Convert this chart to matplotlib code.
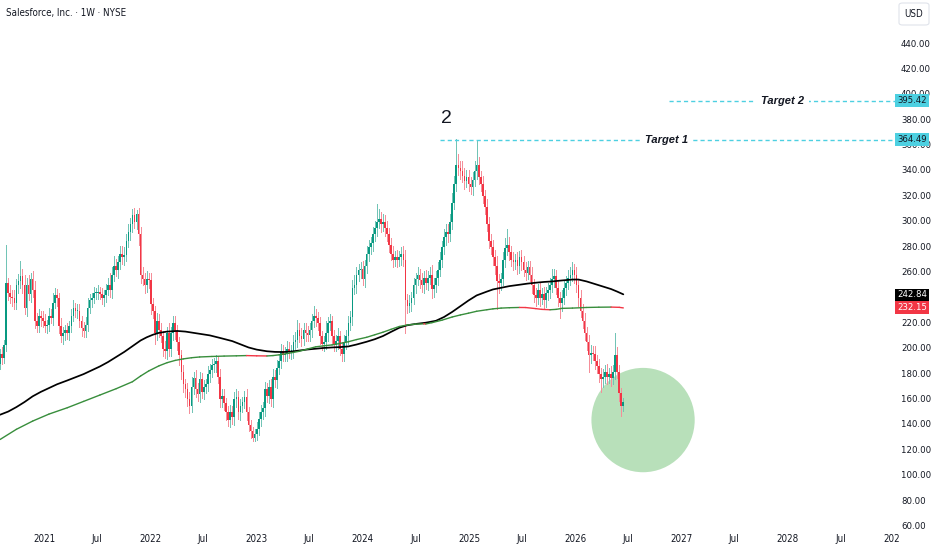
import pandas as pd
import numpy as np
import matplotlib
matplotlib.use('Agg')
import matplotlib.pyplot as plt
from matplotlib.patches import Ellipse, Rectangle, FancyBboxPatch
from matplotlib.collections import LineCollection

plt.rcParams['font.family'] = ['DejaVu Sans', 'Liberation Sans']
plt.rcParams['font.stretch'] = 'condensed'

# weekly bars, first bar = week of 2020-08-03
start = pd.Timestamp('2020-08-03')
first_open = 188

closes = [
    196, 193, 203, 252, 244, 241, 240, 236, 250, 253,
    257, 250, 232, 250, 243, 255, 246, 222, 218, 226,
    224, 222, 218, 219, 226, 224, 236, 242, 240, 218,
    210, 212, 215, 212, 218, 226, 232, 230, 230, 222,
    216, 214, 219, 232, 238, 240, 244, 244, 245, 243,
    240, 242, 246, 250, 246, 258, 265, 262, 268, 275,
    272, 274, 285, 292, 298, 305, 300, 306, 290, 258,
    255, 250, 255, 254, 235, 230, 212, 222, 215, 210,
    200, 198, 212, 200, 212, 220, 214, 205, 195, 182,
    172, 168, 160, 155, 170, 177, 168, 164, 176, 166,
    170, 172, 180, 183, 187, 188, 190, 178, 160, 163,
    157, 150, 144, 150, 146, 160, 162, 150, 155, 158,
    162, 150, 140, 135, 130, 133, 137, 145, 150, 153,
    168, 163, 170, 160, 178, 175, 185, 190, 198, 195,
    196, 200, 198, 198, 205, 207, 215, 210, 208, 215,
    212, 211, 215, 222, 226, 224, 220, 210, 204, 205,
    212, 220, 222, 210, 203, 206, 210, 200, 196, 205,
    210, 220, 225, 248, 250, 258, 262, 263, 255, 265,
    275, 280, 283, 290, 295, 300, 302, 298, 300, 295,
    290, 282, 275, 270, 272, 270, 272, 275, 270, 238,
    234, 236, 240, 250, 255, 258, 254, 250, 256, 252,
    256, 258, 247, 250, 256, 262, 270, 280, 288, 292,
    290, 300, 315, 330, 345, 342, 340, 336, 332, 335,
    330, 327, 333, 340, 345, 335, 330, 320, 312, 298,
    285, 280, 272, 265, 253, 252, 255, 270, 279, 282,
    276, 270, 268, 270, 265, 272, 268, 262, 260, 264,
    258, 250, 242, 240, 246, 240, 243, 238, 244, 246,
    250, 255, 257, 248, 240, 236, 240, 248, 252, 256,
    258, 262, 258, 250, 240, 230, 222, 212, 205, 195,
    197, 196, 190, 186, 180, 176, 178, 182, 178, 180,
    177, 182, 195, 182, 165, 155, 158,
]

# wick length above the body / below the body
wick_up = [
    4, 5, 4, 30, 4, 6, 5, 6, 5, 6,
    12, 6, 8, 6, 8, 5, 6, 7, 6, 5,
    4, 6, 5, 4, 6, 5, 8, 6, 5, 4,
    6, 5, 4, 5, 4, 5, 6, 4, 5, 5,
    4, 5, 6, 8, 5, 4, 5, 4, 5, 4,
    5, 4, 5, 6, 10, 6, 8, 6, 5, 6,
    6, 6, 5, 6, 5, 5, 6, 3, 5, 6,
    6, 5, 6, 5, 6, 5, 4, 6, 5, 5,
    4, 6, 5, 8, 5, 6, 6, 5, 4, 4,
    5, 4, 5, 6, 8, 5, 6, 5, 6, 5,
    5, 4, 6, 5, 5, 5, 5, 4, 6, 5,
    5, 4, 5, 6, 5, 6, 6, 5, 5, 4,
    5, 6, 4, 4, 3, 4, 5, 5, 6, 5,
    6, 5, 5, 6, 6, 5, 6, 5, 6, 5,
    5, 6, 5, 5, 6, 6, 8, 5, 6, 5,
    5, 6, 5, 5, 8, 5, 5, 5, 4, 5,
    10, 5, 5, 4, 5, 5, 6, 4, 5, 6,
    5, 6, 5, 6, 8, 6, 5, 5, 6, 5,
    6, 6, 5, 6, 6, 14, 8, 6, 6, 5,
    6, 5, 5, 6, 5, 6, 5, 5, 6, 8,
    5, 6, 5, 6, 5, 6, 5, 6, 5, 6,
    5, 6, 8, 6, 5, 6, 6, 5, 6, 6,
    6, 6, 8, 6, 20, 8, 6, 8, 6, 6,
    6, 5, 6, 8, 19, 6, 5, 6, 5, 6,
    6, 5, 6, 6, 8, 6, 5, 6, 8, 12,
    6, 5, 6, 5, 6, 5, 6, 5, 6, 5,
    5, 6, 5, 6, 5, 6, 5, 6, 5, 6,
    6, 8, 6, 5, 6, 5, 6, 6, 5, 6,
    6, 6, 5, 6, 5, 6, 5, 6, 5, 6,
    6, 5, 6, 5, 6, 5, 6, 5, 6, 5,
    6, 5, 17, 6, 5, 4, 3,
]
wick_dn = [
    4, 5, 4, 5, 6, 5, 6, 5, 5, 6,
    5, 6, 5, 6, 5, 6, 5, 6, 5, 5,
    6, 5, 5, 6, 5, 4, 5, 4, 6, 6,
    5, 6, 5, 4, 5, 5, 4, 5, 6, 5,
    6, 5, 5, 5, 4, 5, 4, 5, 5, 4,
    5, 6, 5, 4, 5, 6, 5, 5, 6, 5,
    5, 6, 5, 5, 6, 6, 5, 6, 8, 6,
    5, 6, 5, 6, 8, 6, 8, 5, 6, 5,
    6, 5, 6, 6, 6, 5, 6, 6, 8, 6,
    6, 6, 5, 6, 5, 6, 6, 5, 6, 5,
    6, 5, 5, 6, 5, 5, 6, 5, 6, 6,
    5, 6, 5, 6, 5, 6, 6, 5, 6, 5,
    5, 6, 5, 5, 3, 3, 5, 5, 6, 5,
    6, 5, 6, 5, 6, 5, 6, 5, 5, 5,
    5, 6, 5, 6, 5, 5, 6, 5, 6, 5,
    6, 5, 5, 6, 5, 6, 5, 6, 5, 6,
    5, 6, 5, 6, 5, 5, 6, 5, 6, 6,
    5, 6, 5, 6, 5, 6, 5, 6, 5, 6,
    5, 6, 5, 6, 5, 6, 5, 6, 5, 6,
    5, 6, 5, 6, 5, 6, 5, 6, 5, 26,
    6, 5, 6, 5, 6, 5, 6, 5, 6, 5,
    6, 5, 7, 6, 5, 6, 5, 6, 5, 6,
    6, 5, 6, 5, 6, 5, 6, 5, 6, 5,
    6, 5, 6, 5, 6, 5, 6, 5, 6, 5,
    6, 5, 6, 6, 22, 8, 6, 5, 6, 5,
    6, 5, 6, 5, 6, 5, 6, 5, 6, 5,
    5, 6, 5, 6, 5, 6, 5, 6, 5, 6,
    6, 5, 6, 5, 6, 12, 6, 5, 6, 5,
    6, 5, 6, 5, 6, 5, 6, 5, 6, 13,
    6, 5, 6, 5, 6, 10, 6, 5, 6, 5,
    6, 5, 6, 5, 6, 8, 4,
]

# moving averages (week index, value)
sma100_weeks = [0, 4, 8, 12, 16, 20, 24, 28, 33, 37,
                41, 45, 49, 53, 57, 61, 65, 69, 72, 75,
                78, 82, 87, 91, 95, 99, 103, 108, 114, 118,
                122, 126, 131, 135, 139, 143, 147, 151, 155, 159,
                163, 167, 171, 175, 180, 184, 188, 192, 196, 200,
                204, 209, 214, 218, 222, 226, 230, 234, 239, 242,
                246, 250, 255, 259, 263, 267, 271, 276, 281, 284,
                288, 292, 296, 300, 303, 306]
sma100 = [148, 150.5, 154, 158, 162.5, 166, 169, 172, 175, 177.5,
          180, 183, 186, 189.5, 193.5, 197.5, 202, 206.5, 209, 211,
          212.5, 213.5, 214, 213.5, 212.5, 211.5, 210.5, 208.5, 206, 203.5,
          201, 199.3, 198, 197.5, 197.4, 197.8, 198.6, 199.4, 200, 200.6,
          201, 201.3, 201.8, 203.3, 205.5, 207.5, 210, 213.3, 216.5, 218.5,
          219.5, 220.5, 222, 225, 229, 233.5, 238, 242, 245, 246.7,
          248, 249.3, 250.4, 251.3, 252, 252.6, 253, 253.8, 254.5, 254.5,
          253, 251, 249, 247, 245, 242.84]
sma200_weeks = [0, 8, 16, 24, 33, 41, 49, 57, 65, 69,
                73, 78, 82, 86, 90, 94, 98, 104, 110, 116,
                121, 126, 131, 134, 137, 142, 147, 151, 155, 159,
                163, 167, 171, 175, 180, 184, 188, 192, 196, 200,
                204, 208, 209, 212, 217, 222, 226, 230, 234, 239,
                242, 246, 250, 255, 258, 263, 266, 270, 273, 276,
                281, 288, 294, 300, 304, 306]
sma200 = [128.5, 136.5, 143, 148.5, 153.5, 158.5, 163.5, 168.5, 174, 178.5,
          182.5, 186.5, 189, 190.8, 192, 192.9, 193.5, 193.9, 194.2, 194.4,
          194.6, 194.4, 194.3, 194.6, 195.2, 196.5, 198, 199.8, 201.5, 202.3,
          203, 204.2, 205.5, 207.2, 209, 211, 213, 215.3, 217.5, 218.7,
          219.4, 219.6, 219.5, 220.5, 222.5, 225, 226.6, 228, 229.5, 230.7,
          231.4, 232, 232.3, 232.5, 232.45, 231.6, 231, 230.7, 231, 231.8,
          232, 232.5, 232.7, 232.8, 232.6, 232.15]

target1 = 364.49
target2 = 395.42
price_ticks = [60, 80, 100, 120, 140, 160, 180, 200, 220, 260, 280,
               300, 320, 340, 360, 380, 400, 420, 440]
tick_dates = ['2021-01-01', '2021-07-01', '2022-01-01', '2022-07-01',
              '2023-01-01', '2023-07-01', '2024-01-01', '2024-07-01',
              '2025-01-01', '2025-07-01', '2026-01-01', '2026-07-01',
              '2027-01-01', '2027-07-01', '2028-01-01', '2028-07-01',
              '2029-01-01']
tick_labels = ['2021', 'Jul', '2022', 'Jul', '2023', 'Jul', '2024', 'Jul',
               '2025', 'Jul', '2026', 'Jul', '2027', 'Jul', '2028', 'Jul', '2029']

UP = '#089981'
DOWN = '#F23645'
UP_WICK = '#72c4b6'
DOWN_WICK = '#f58e99'
TXT = '#131722'
CYAN = '#4dd0e1'

opens = [first_open] + closes[:-1]
idx = np.arange(len(closes))
o = np.array(opens, dtype=float)
c = np.array(closes, dtype=float)
hi = np.maximum(o, c) + np.array(wick_up)
lo = np.minimum(o, c) - np.array(wick_dn)
rising = c >= o
cols = np.where(rising, UP, DOWN)
wcols = np.where(rising, UP_WICK, DOWN_WICK)

fig = plt.figure(figsize=(9.32, 5.5), dpi=100, facecolor='white')
ax = fig.add_axes([0, 20 / 550, 899 / 932, 530 / 550])
ax.set_xlim(-0.03, 441.36)
ax.set_ylim(57.2, 474.7)
for s in ax.spines.values():
    s.set_visible(False)
ax.set_yticks([])

# candles, drawn crisp so neighbouring colours do not blend
ax.vlines(idx, lo, hi, colors=wcols, linewidth=0.72, antialiased=False, zorder=2)
body_h = np.maximum(np.abs(c - o), 0.8)
ax.bar(idx, body_h, bottom=np.minimum(o, c), width=0.8, color=cols,
       linewidth=0, antialiased=False, zorder=3)

# moving averages
ax.plot(sma100_weeks, sma100, color='black', lw=1.25, zorder=4,
        solid_capstyle='round', solid_joinstyle='round')
pts = np.column_stack([sma200_weeks, sma200])
segs = np.stack([pts[:-1], pts[1:]], axis=1)
seg_cols = [DOWN if b < a else '#388e3c' for a, b in zip(sma200[:-1], sma200[1:])]
ax.add_collection(LineCollection(segs, colors=seg_cols, linewidths=1.0,
                                 zorder=4, capstyle='round', joinstyle='round'))

# target circle
ax.add_patch(Ellipse((315.7, 143.8), 50.7, 82.2, facecolor='#b8e0ba',
                     edgecolor='none', zorder=1))

# target lines
ax.plot([216, 441.4], [target1, target1], color=CYAN, lw=1, dashes=(3, 2.2), zorder=2)
ax.plot([328.5, 441.4], [target2, target2], color=CYAN, lw=1, dashes=(3, 2.2), zorder=2)
for xt, yt, lab in [(327, target1, 'Target 1'), (384, target2, 'Target 2')]:
    ax.text(xt, yt, lab, fontsize=8, fontweight='bold', fontstyle='italic',
            fontstretch='normal', family=['Liberation Sans', 'DejaVu Sans'],
            ha='center', va='center', color=TXT, zorder=5,
            bbox=dict(facecolor='white', edgecolor='none', pad=3.5))
ax.text(219.4, 381.7, '2', fontsize=14, ha='center', va='center', color=TXT,
        family=['Liberation Sans', 'DejaVu Sans'])

# x axis
tick_pos = [(pd.Timestamp(d) - start).days / 7 for d in tick_dates]
ax.set_xticks(tick_pos, tick_labels)
ax.tick_params(axis='x', length=0, pad=3, labelsize=7, labelcolor=TXT)

# price scale panel
pan = fig.add_axes([899 / 932, 20 / 550, 33 / 932, 530 / 550])
pan.set_xlim(0, 33)
pan.set_ylim(57.2, 474.7)
pan.axis('off')
for v in price_ticks:
    pan.text(2, v, f'{v:.2f}', fontsize=6.8, color=TXT, ha='left', va='center',
             clip_on=True)

mid = (242.84 + 232.15) / 2
boxes = [(target2, target2 - 5.1, target2 + 5.1, CYAN, TXT),
         (target1, target1 - 5.1, target1 + 5.1, CYAN, TXT),
         (242.84, mid, 247.3, 'black', 'white'),
         (232.15, 227.6, mid, DOWN, 'white')]
for val, b0, b1, fc, tc in boxes:
    pan.add_patch(Rectangle((-4, b0), 34, b1 - b0, facecolor=fc, edgecolor='none',
                            clip_on=False, zorder=3))
    pan.text(13, val, f'{val:.2f}', fontsize=6.8, color=tc, ha='center',
             va='center', zorder=4)

# corner cover and USD badge
fig.add_artist(Rectangle((899 / 932, 0), 33 / 932, 20 / 550, transform=fig.transFigure,
                         facecolor='white', edgecolor='none', zorder=10))
fig.add_artist(FancyBboxPatch((899 / 932, 1 - 25 / 550), 30 / 932, 22 / 550,
                              boxstyle='round,pad=0,rounding_size=0.004',
                              transform=fig.transFigure, facecolor='white',
                              edgecolor='#e0e3eb', linewidth=0.8, zorder=10))
fig.text(914 / 932, 1 - 14 / 550, 'USD', fontsize=7, color=TXT, ha='center',
         va='center', zorder=11)

fig.text(6 / 932, 1 - 13 / 550, 'Salesforce, Inc. · 1W · NYSE', fontsize=7,
         color=TXT, ha='left', va='center')

fig.savefig('out.png', dpi=100, facecolor='white')
